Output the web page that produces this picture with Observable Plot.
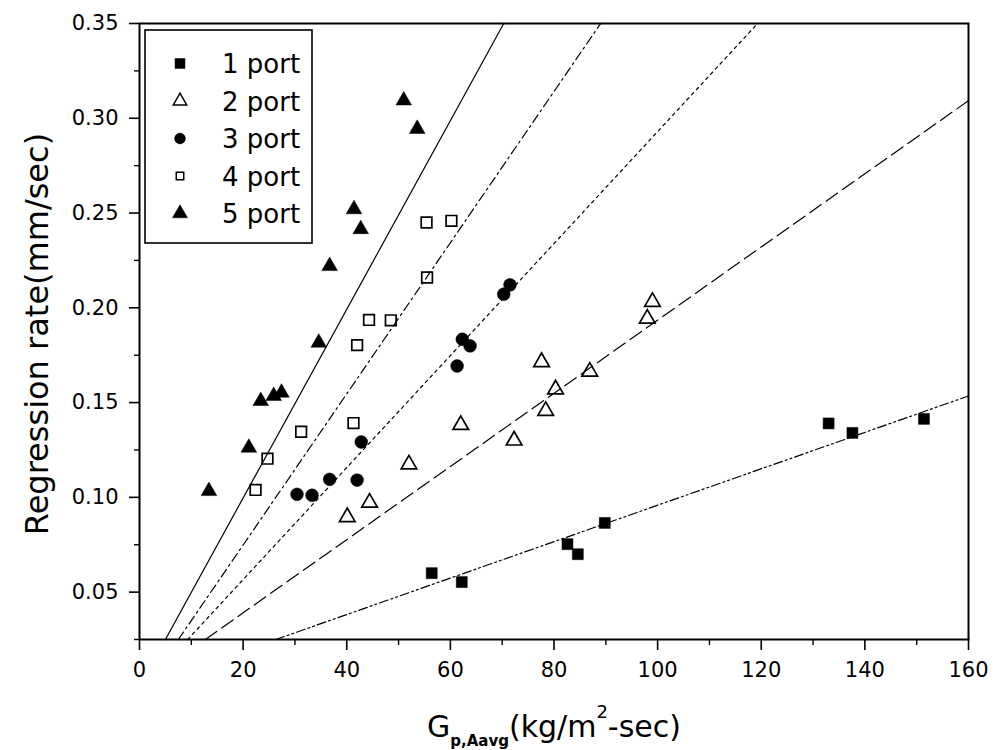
<!DOCTYPE html>
<html><head><meta charset="utf-8">
<script src="https://cdn.jsdelivr.net/npm/d3@7"></script>
<script src="https://cdn.jsdelivr.net/npm/@observablehq/plot@0.6"></script>
<style>body{margin:0;background:#fff} #chart svg{display:block}</style>
</head><body><div id="chart"></div>
<script>
// ---- data ----
const series = ["1 port", "2 port", "3 port", "4 port", "5 port"];

const port1X = [56.4, 62.2, 82.6, 84.6, 89.8, 133.0, 137.6, 151.4];
const port1Y = [0.060, 0.0553, 0.0753, 0.070, 0.0865, 0.139, 0.134, 0.1414];

const port2X = [40.1, 44.4, 52.0, 62.0, 72.3, 77.6, 78.4, 80.3, 86.9, 98.0, 99.0];
const port2Y = [0.0896, 0.0972, 0.1174, 0.1382, 0.130, 0.1714, 0.1456, 0.157, 0.1663, 0.1943, 0.2031];

const port3X = [30.4, 33.3, 36.7, 42.0, 42.8, 61.3, 62.3, 63.8, 70.3, 71.5];
const port3Y = [0.1016, 0.1011, 0.1095, 0.1091, 0.1292, 0.1693, 0.1834, 0.1799, 0.2072, 0.2121];

const port4X = [22.4, 24.7, 31.2, 41.3, 42.0, 44.3, 48.5, 55.5, 55.4, 60.2];
const port4Y = [0.1039, 0.1204, 0.1346, 0.1392, 0.1803, 0.1936, 0.1934, 0.216, 0.245, 0.2459];

const port5X = [13.4, 21.1, 23.4, 25.9, 27.4, 34.6, 36.7, 41.4, 42.7, 51.0, 53.6];
const port5Y = [0.1033, 0.1262, 0.1508, 0.1535, 0.1552, 0.1816, 0.222, 0.252, 0.2415, 0.3094, 0.2944];

// fitted lines: end points
const fitX0 = [26.3, 12.7, 9.3, 7.5, 5.0];
const fitY0 = [0.025, 0.025, 0.025, 0.025, 0.025];
const fitX1 = [160, 160, 119.3, 89.0, 70.3];
const fitY1 = [0.1535, 0.3093, 0.35, 0.35, 0.35];

const xTicks = [0, 20, 40, 60, 80, 100, 120, 140, 160];
const xMinor = [10, 30, 50, 70, 90, 110, 130, 150];
const yTicks = [0.05, 0.10, 0.15, 0.20, 0.25, 0.30, 0.35];
const yMinor = [0.025, 0.075, 0.125, 0.175, 0.225, 0.275, 0.325];

// ---- styles ----
const seriesSymbol = ["square", "triangle", "circle", "square", "triangle"];
const seriesFilled = [true, false, true, false, true];
const seriesR = [6.2, 5.8, 6.4, 6.0, 5.8];
const fitDash = ["9,3,2,3,2,3", "14,6", "3,4", "9,4,2,4", null];

const xs = [port1X, port2X, port3X, port4X, port5X];
const ys = [port1Y, port2Y, port3Y, port4Y, port5Y];

const lineMarks = series.map((s, i) => Plot.line(
  [{x: fitX0[i], y: fitY0[i]}, {x: fitX1[i], y: fitY1[i]}],
  {x: "x", y: "y", stroke: "black", strokeWidth: 1.2, strokeDasharray: fitDash[i] || undefined}
));

const dotMarks = series.map((s, i) => Plot.dot(
  xs[i].map((x, j) => ({x, y: ys[i][j], s})),
  {x: "x", y: "y", symbol: () => seriesSymbol[i], r: seriesR[i],
   fill: seriesFilled[i] ? "black" : "none", stroke: "black", strokeWidth: seriesFilled[i] ? 0.5 : 1.7}
));

const chart = Plot.plot({
  width: 1006, height: 750,
  marginLeft: 139, marginRight: 38, marginTop: 23, marginBottom: 111,
  style: {fontFamily: "DejaVu Sans", background: "white", color: "black"},
  x: {domain: [0, 160]},
  y: {domain: [0.025, 0.35]},
  symbol: {type: "identity"},
  marks: [
    ...lineMarks,
    ...dotMarks,
    Plot.frame({stroke: "black", strokeWidth: 2}),
    Plot.axisY({ticks: yTicks, tickSize: 10, tickPadding: 11, tickFormat: d3.format(".2f"), fontSize: 21, label: null, strokeWidth: 1.6}),
    Plot.axisY({ticks: yMinor, tickSize: 5, tickFormat: () => "", label: null, strokeWidth: 1.4}),
    Plot.axisX({ticks: xTicks, tickSize: 11, tickPadding: 12, fontSize: 21, label: null, strokeWidth: 1.6}),
    Plot.axisX({ticks: xMinor, tickSize: 6, tickFormat: () => "", label: null, strokeWidth: 1.4})
  ]
});
document.getElementById("chart").appendChild(chart);

// ---- legend & titles ----
const svg = d3.select(chart);
const lg = svg.append("g").attr("text-anchor", "start");
lg.append("rect").attr("x", 145).attr("y", 30).attr("width", 167).attr("height", 213)
  .attr("fill", "white").attr("stroke", "black").attr("stroke-width", 1.6);
const legendR = [5.6, 5.0, 5.4, 4.2, 5.6];
series.forEach((s, i) => {
  const cy = 63.5 + i * 37.5;
  const sym = d3.symbol(seriesSymbol[i] === "square" ? d3.symbolSquare : seriesSymbol[i] === "triangle" ? d3.symbolTriangle : d3.symbolCircle, Math.PI * legendR[i] ** 2);
  lg.append("path").attr("d", sym()).attr("transform", `translate(180,${cy})`)
    .attr("fill", seriesFilled[i] ? "black" : "none").attr("stroke", "black").attr("stroke-width", seriesFilled[i] ? 0.5 : 1.5);
  lg.append("text").attr("x", 222).attr("y", cy + 9.5).attr("font-size", 26)
    .attr("text-anchor", "start")
    .attr("font-family", "DejaVu Sans").attr("fill", "black").text(s);
});

svg.append("text").attr("transform", "translate(48,334) rotate(-90)")
  .attr("text-anchor", "middle").attr("font-size", 32).attr("font-family", "DejaVu Sans")
  .attr("fill", "black").text("Regression rate(mm/sec)");

const xt = svg.append("text").attr("x", 427).attr("y", 737).attr("font-size", 30)
  .attr("text-anchor", "start")
  .attr("font-family", "DejaVu Sans").attr("fill", "black");
xt.append("tspan").text("G");
xt.append("tspan").attr("dy", 9).attr("font-size", 15).attr("font-weight", "bold").text("p,Aavg");
xt.append("tspan").attr("dy", -9).text("(kg/m");
xt.append("tspan").attr("dy", -19).attr("font-size", 18).text("2");
xt.append("tspan").attr("dy", 19).text("-sec)");
</script></body></html>
